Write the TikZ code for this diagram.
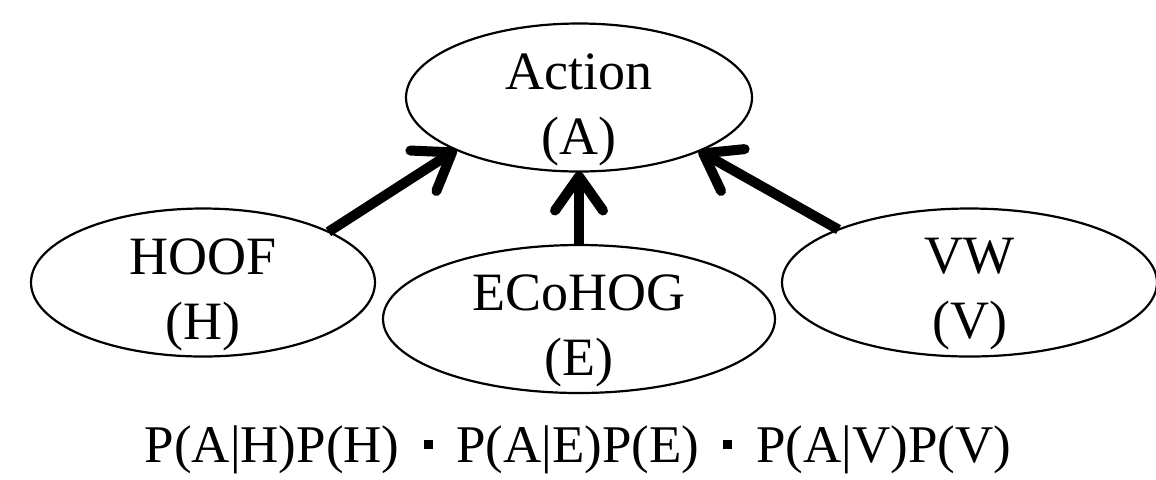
\documentclass[tikz,border=0pt]{standalone}
\usepackage{fontspec}
\setmainfont{Liberation Serif}
\usetikzlibrary{shapes.geometric,arrows.meta}
\begin{document}
\begin{tikzpicture}[x=0.5pt,y=-0.5pt,
  ell/.style={ellipse,draw,line width=1.1pt,outer sep=0pt,inner sep=0pt,minimum height=74pt},
  txt/.style={align=center,font=\fontsize{27}{32.5}\selectfont,yshift=-6pt},
  arr/.style={line width=5pt,-{Straight Barb[length=17pt,width=24pt,round]}}]
\useasboundingbox (0,0) rectangle (1156,479);
\node[ell,minimum width=173pt] (A) at (579,97.5) {};
\node[ell,minimum width=172pt] (H) at (203,282.5) {};
\node[ell,minimum width=196pt] (E) at (579,319) {};
\node[ell,minimum width=187.5pt] (V) at (969.5,282.5) {};
\node[txt] (At) at (A.center) {Action\\(A)};
\node[txt] (Ht) at (H.center) {HOOF\\(H)};
\node[txt] (Et) at (E.center) {ECoHOG\\(E)};
\node[txt] (Vt) at (V.center) {VW\\(V)};
\draw[arr] (H.22.8) -- (A.203);
\draw[arr] (E.north) -- (A.south);
\draw[arr] (V.158.2) -- (A.336.7);
\node[font=\fontsize{26.5}{30}\selectfont] (F) at (578,450) {P(A|H)P(H)\hspace{0.45em}\rule[0.25em]{0.17em}{0.17em}\hspace{0.45em}P(A|E)P(E)\hspace{0.45em}\rule[0.25em]{0.17em}{0.17em}\hspace{0.45em}P(A|V)P(V)};
\end{tikzpicture}
\end{document}
